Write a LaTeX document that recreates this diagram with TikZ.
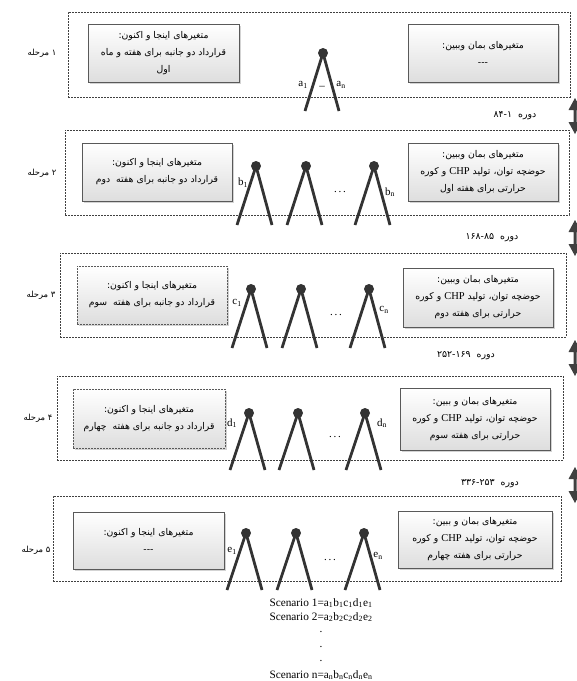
\documentclass[tikz,border=0pt]{standalone}
\usepackage{fontspec}
\usetikzlibrary{shadows}
\TeXXeTstate=1
\setmainfont{Liberation Serif}
\newfontfamily\fa[Script=Arabic]{DejaVu Sans}
\newcommand{\rl}[1]{\beginR #1\endR}
\newcommand{\lr}[1]{\beginL #1\endL}
\newcommand{\chp}{\lr{{\rmfamily\fontsize{10.5}{17}\selectfont CHP}}}
\tikzset{
  stagebox/.style={draw=black!75, dash pattern=on 2pt off 1pt, line width=0.6pt, inner sep=0pt},
  varbox/.style={draw=black!65, line width=0.6pt, top color=white, bottom color=black!13,
     align=center, inner sep=0pt, font=\fa\fontsize{9.3}{17}\selectfont,
     drop shadow={shadow xshift=1.5pt, shadow yshift=-1.5pt, opacity=0.35, fill=black!50}},
  dvarbox/.style={varbox, dash pattern=on 2pt off 1pt},
  dotnode/.style={circle, fill=black!80, inner sep=0pt, minimum size=10pt},
  leg/.style={line width=2.8pt, draw=black!80},
  stagelbl/.style={font=\fa\fontsize{8.4}{10}\selectfont, inner sep=0pt},
  periodlbl/.style={font=\fa\fontsize{9.4}{10}\selectfont, inner sep=0pt},
  brlbl/.style={font=\fontsize{11}{12}\selectfont, inner sep=0pt},
  scen/.style={font=\fontsize{11.3}{13}\selectfont, inner sep=0pt},
  arrowcol/.style={fill=black!75},
}
\begin{document}
\begin{tikzpicture}[x=1pt,y=-1pt]
\useasboundingbox (0,0) rectangle (577,681);

% ---------- stage boxes ----------
\node[stagebox, minimum width=502pt, minimum height=85pt] (s1) at (319,54.5) {};
\node[stagebox, minimum width=504pt, minimum height=85pt] (s2) at (317,172.5) {};
\node[stagebox, minimum width=506pt, minimum height=84pt] (s3) at (313,295) {};
\node[stagebox, minimum width=506pt, minimum height=84pt] (s4) at (310,418) {};
\node[stagebox, minimum width=508pt, minimum height=85pt] (s5) at (307,538.5) {};

% ---------- stage labels ----------
\node[stagelbl] (m1) at (42,53) {\rl{مرحله}\ ۱};
\node[stagelbl] (m2) at (42,173) {\rl{مرحله}\ ۲};
\node[stagelbl] (m3) at (41,295) {\rl{مرحله}\ ۳};
\node[stagelbl] (m4) at (38,418) {\rl{مرحله}\ ۴};
\node[stagelbl] (m5) at (36,550) {\rl{مرحله}\ ۵};

% ---------- period labels ----------
\node[periodlbl] (p1) at (515,116) {\rl{دوره\ \ \lr{۸۴-۱}}};
\node[periodlbl] (p2) at (492,238) {\rl{دوره\ \ \lr{۱۶۸-۸۵}}};
\node[periodlbl] (p3) at (466,356) {\rl{دوره\ \ \lr{۲۵۲-۱۶۹}}};
\node[periodlbl] (p4) at (490,484) {\rl{دوره\ \ \lr{۳۳۶-۲۵۳}}};

% ---------- double arrows ----------
\foreach \yy in {116,238,358,485}{
  \fill[arrowcol, shift={(575,\yy)}] (0,-18) -- (6.5,-6) -- (1.5,-6) -- (1.5,6) -- (6.5,6)
     -- (0,18) -- (-6.5,6) -- (-1.5,6) -- (-1.5,-6) -- (-6.5,-6) -- cycle;
}

% ---------- left (here-and-now) boxes ----------
\node[varbox, minimum width=151pt, minimum height=58pt] (l1) at (163.5,53)
  {\rl{متغیرهای اینجا و اکنون:}\\ \rl{قرارداد دو جانبه برای هفته و ماه}\\ \rl{اول}};
\node[varbox, minimum width=150pt, minimum height=58pt] (l2) at (157,172)
  {\rl{متغیرهای اینجا و اکنون:}\\ \rl{قرارداد دو جانبه برای هفته\ \ دوم}};
\node[dvarbox, minimum width=150pt, minimum height=58pt] (l3) at (152,295)
  {\rl{متغیرهای اینجا و اکنون:}\\ \rl{قرارداد دو جانبه برای هفته\ \ سوم}};
\node[dvarbox, minimum width=152pt, minimum height=59pt] (l4) at (149,418.5)
  {\rl{متغیرهای اینجا و اکنون:}\\ \rl{قرارداد دو جانبه برای هفته\ \ چهارم}};
\node[varbox, minimum width=151pt, minimum height=57pt] (l5) at (148.5,540.5)
  {\rl{متغیرهای اینجا و اکنون:}\\ ---};

% ---------- right (wait-and-see) boxes ----------
\node[varbox, minimum width=150pt, minimum height=58pt] (r1) at (483,53)
  {\rl{متغیرهای بمان وببین:}\\ ---};
\node[varbox, minimum width=150pt, minimum height=58pt] (r2) at (483,172)
  {\rl{متغیرهای بمان وببین:}\\ \rl{حوضچه توان، تولید \chp{} و کوره}\\ \rl{حرارتی برای هفته اول}};
\node[varbox, minimum width=150pt, minimum height=59pt] (r3) at (478,297.5)
  {\rl{متغیرهای بمان وببین:}\\ \rl{حوضچه توان، تولید \chp{} و کوره}\\ \rl{حرارتی برای هفته دوم}};
\node[varbox, minimum width=150pt, minimum height=62pt] (r4) at (475,419)
  {\rl{متغیرهای بمان و ببین:}\\ \rl{حوضچه توان، تولید \chp{} و کوره}\\ \rl{حرارتی برای هفته سوم}};
\node[varbox, minimum width=154pt, minimum height=57pt] (r5) at (475,539.5)
  {\rl{متغیرهای بمان و ببین:}\\ \rl{حوضچه توان، تولید \chp{} و کوره}\\ \rl{حرارتی برای هفته چهارم}};

% ---------- trees ----------
% stage 1
\node[dotnode] (t1) at (323,53) {};
\coordinate (t1l) at (305,111); \coordinate (t1r) at (339,111);
\draw[leg] (t1.center) -- (t1l); \draw[leg] (t1.center) -- (t1r);
\node[brlbl] (a1) at (303,85) {a\textsubscript{1}};
\node[brlbl] (au) at (322,86) {\_};
\node[brlbl] (an) at (341,85) {a\textsubscript{n}};

% stage 2
\foreach \nm/\xx in {t2a/256,t2b/306,t2c/374}{
  \node[dotnode] (\nm) at (\xx,166) {};
  \coordinate (\nm l) at (\xx-19,225); \coordinate (\nm r) at (\xx+16,225);
  \draw[leg] (\nm.center) -- (\nm l); \draw[leg] (\nm.center) -- (\nm r);
}
\node[brlbl] (b1) at (243,183) {b\textsubscript{1}};
\node[brlbl] (bn) at (390,192) {b\textsubscript{n}};
\node[brlbl] (bd) at (340,192) {.\,.\,.};

% stage 3
\foreach \nm/\xx in {t3a/251,t3b/301,t3c/369}{
  \node[dotnode] (\nm) at (\xx,289) {};
  \coordinate (\nm l) at (\xx-19,348); \coordinate (\nm r) at (\xx+16,348);
  \draw[leg] (\nm.center) -- (\nm l); \draw[leg] (\nm.center) -- (\nm r);
}
\node[brlbl] (c1) at (237,303) {c\textsubscript{1}};
\node[brlbl] (cn) at (384,310) {c\textsubscript{n}};
\node[brlbl] (cd) at (336,315) {.\,.\,.};

% stage 4
\foreach \nm/\xx in {t4a/249,t4b/298,t4c/365}{
  \node[dotnode] (\nm) at (\xx,413) {};
  \coordinate (\nm l) at (\xx-19,470); \coordinate (\nm r) at (\xx+16,470);
  \draw[leg] (\nm.center) -- (\nm l); \draw[leg] (\nm.center) -- (\nm r);
}
\node[brlbl] (d1) at (232,423) {d\textsubscript{1}};
\node[brlbl] (dn) at (382,423) {d\textsubscript{n}};
\node[brlbl] (dd) at (335,437) {.\,.\,.};

% stage 5
\foreach \nm/\xx in {t5a/246,t5b/296,t5c/364}{
  \node[dotnode] (\nm) at (\xx,533) {};
  \coordinate (\nm l) at (\xx-19,590); \coordinate (\nm r) at (\xx+16,590);
  \draw[leg] (\nm.center) -- (\nm l); \draw[leg] (\nm.center) -- (\nm r);
}
\node[brlbl] (e1) at (232,551) {e\textsubscript{1}};
\node[brlbl] (en) at (378,556) {e\textsubscript{n}};
\node[brlbl] (ed) at (330,560) {.\,.\,.};

% ---------- scenarios ----------
\node[scen] (sc1) at (321,603) {Scenario 1=a\textsubscript{1}b\textsubscript{1}c\textsubscript{1}d\textsubscript{1}e\textsubscript{1}};
\node[scen] (sc2) at (321,617) {Scenario 2=a\textsubscript{2}b\textsubscript{2}c\textsubscript{2}d\textsubscript{2}e\textsubscript{2}};
\node[scen] (sd1) at (321,632) {.};
\node[scen] (sd2) at (321,647) {.};
\node[scen] (sd3) at (321,661) {.};
\node[scen] (scn) at (321,675) {Scenario n=a\textsubscript{n}b\textsubscript{n}c\textsubscript{n}d\textsubscript{n}e\textsubscript{n}};
\end{tikzpicture}
\end{document}
